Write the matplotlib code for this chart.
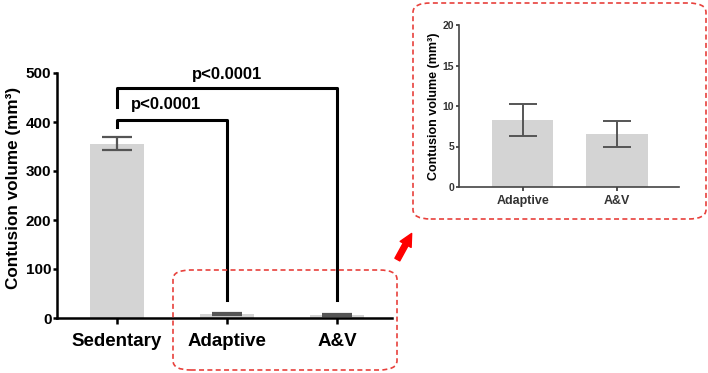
import matplotlib
matplotlib.use("Agg")
import matplotlib.pyplot as plt
from matplotlib.patches import FancyBboxPatch, FancyArrowPatch

# data
groups = ["Sedentary", "Adaptive", "A&V"]
volume = [356, 8.3, 6.5]
volume_err = [13, 2.0, 1.6]

inset_groups = ["Adaptive", "A&V"]
inset_volume = [8.3, 6.5]
inset_err = [2.0, 1.6]

main_ticks = [0, 100, 200, 300, 400, 500]
inset_ticks = [0, 5, 10, 15, 20]
p_label = "p<0.0001"
y_title = "Contusion volume (mm³)"

plt.rcParams['font.family'] = ['Liberation Sans', 'DejaVu Sans']
plt.rcParams['font.weight'] = 'bold'

W, H = 708, 373
fig = plt.figure(figsize=(W / 100, H / 100), dpi=100)


def fx(px):
    return px / W


def fy(py):
    return 1 - py / H


bar_col = "#d4d4d4"
err_col = "#555555"

# main panel
ax = fig.add_axes([fx(57), fy(318), fx(392) - fx(57), fy(73) - fy(318)])
xs = list(range(len(groups)))
ax.bar(xs, volume, width=0.49, color=bar_col, zorder=1)
ax.errorbar(xs, volume, yerr=volume_err, fmt='none', ecolor=err_col,
            elinewidth=1.6, capsize=11, capthick=1.6, zorder=2)
ax.set_xlim(-0.545, 2.5)
ax.set_ylim(0, 500)
ax.set_yticks(main_ticks)
ax.set_xticks(xs)
ax.set_xticklabels(groups, fontsize=13.5, fontweight='bold')
ax.tick_params(axis='y', labelsize=11, width=1.8, length=3, pad=1)
ax.tick_params(axis='x', width=1.8, length=4, pad=7)
for s in ['top', 'right']:
    ax.spines[s].set_visible(False)
for s in ['left', 'bottom']:
    ax.spines[s].set_linewidth(1.8)
ax.set_ylabel(y_title, fontsize=12.3, fontweight='bold', va='center')
ax.yaxis.set_label_coords((14 - 57) / 335, 0.53)

# significance brackets
ax.plot([0, 0, 1, 1], [390, 405, 405, 37], color='black', lw=2.2, clip_on=False, zorder=3)
ax.plot([0, 0, 2, 2], [430, 470, 470, 37], color='black', lw=2.2, clip_on=False, zorder=3)
ax.text(0.45, 435, p_label, ha='center', va='center', fontsize=12, fontweight='bold')
ax.text(1.0, 496, p_label, ha='center', va='center', fontsize=12, fontweight='bold')

# inset panel
ax2 = fig.add_axes([fx(459), fy(187), fx(679) - fx(459), fy(25) - fy(187)])
xi = list(range(len(inset_groups)))
ax2.bar(xi, inset_volume, width=0.65, color=bar_col, zorder=1)
ax2.errorbar(xi, inset_volume, yerr=inset_err, fmt='none', ecolor=err_col,
             elinewidth=1.4, capsize=10, capthick=1.4, zorder=2)
ax2.set_xlim(-0.68, 1.66)
ax2.set_ylim(0, 20)
ax2.set_yticks(inset_ticks)
ax2.set_xticks(xi)
ax2.set_xticklabels(inset_groups, fontsize=9, fontweight='bold')
ax2.tick_params(axis='y', labelsize=7.5, width=1.2, length=2.5, pad=1, colors='#333333')
ax2.tick_params(axis='x', width=1.2, length=3, pad=3, colors='#333333')
for s in ['top', 'right']:
    ax2.spines[s].set_visible(False)
for s in ['left', 'bottom']:
    ax2.spines[s].set_linewidth(1.2)
    ax2.spines[s].set_color('#444444')
ax2.set_ylabel(y_title, fontsize=9, fontweight='bold', va='center')
ax2.yaxis.set_label_coords((434 - 459) / 220, 0.5)

# dashed highlight boxes
red = "#e8413c"
for (x0, y0, x1, y1) in [(173, 270, 397, 370), (413, 3, 706, 219)]:
    box = FancyBboxPatch((fx(x0), fy(y1)), fx(x1) - fx(x0), fy(y0) - fy(y1),
                         boxstyle="round,pad=0,rounding_size=0.025",
                         transform=fig.transFigure, fill=False,
                         edgecolor=red, linestyle=(0, (3, 2)), linewidth=1.2)
    fig.patches.append(box)

# arrow
fig.patches.append(FancyArrowPatch(
    (fx(396), fy(262)), (fx(413), fy(231)), transform=fig.transFigure,
    arrowstyle="simple,head_length=9,head_width=9,tail_width=4",
    color='red', mutation_scale=1))

fig.savefig("out.png", dpi=100)
